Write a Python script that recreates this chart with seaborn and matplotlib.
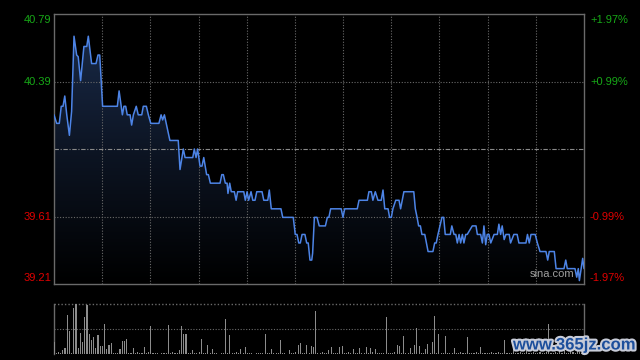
import numpy as np
import pandas as pd
import matplotlib
matplotlib.use("Agg")
import matplotlib.pyplot as plt
import seaborn as sns
from matplotlib.colors import LinearSegmentedColormap
import matplotlib.patheffects as pe

# ---- data ----
minutes = [0, 1.2, 2.4, 3.3, 4.1, 4.9, 5.8, 7.0, 8.0, 9.1, 10.3, 11.0, 12.1, 13.6, 14.9, 15.6,
           17.1, 19.1, 20.0, 20.8, 22.1, 28.8, 29.6, 31.1, 31.8, 32.6, 33.3, 34.6, 35.3, 36.1,
           37.4, 38.3, 39.9, 40.6, 42.0, 42.9, 44.0, 47.7, 48.7, 49.4, 50.2, 52.7, 56.5, 57.3,
           58.8, 59.6, 61.8, 63.1, 63.8, 64.6, 65.3, 66.4, 67.3, 68.1, 69.4, 70.2, 71.1, 75.5,
           76.3, 77.0, 77.9, 78.7, 79.1, 79.9, 80.6, 82.0, 82.8, 83.5, 86.3, 87.0, 87.8, 88.5,
           89.6, 90.4, 91.4, 92.2, 94.6, 95.4, 97.2, 97.9, 98.8, 103.2, 104.0, 108.8, 109.7,
           110.5, 111.3, 112.0, 112.8, 114.1, 114.9, 115.6, 116.4, 117.2, 117.6, 118.4, 119.6,
           120.6, 123.4, 124.3, 125.0, 125.8, 130.6, 131.4, 132.2, 137.9, 138.7, 142.5, 143.2,
           144.3, 145.0, 146.1, 147.3, 148.8, 149.6, 150.4, 151.9, 152.6, 153.4, 154.1, 155.4,
           156.9, 157.6, 159.1, 163.6, 164.3, 165.1, 165.8, 166.6, 167.3, 168.6, 170.1, 172.3,
           173.1, 173.8, 174.6, 176.4, 177.2, 177.9, 180.2, 180.9, 181.9, 182.7, 183.4, 184.2,
           184.9, 185.7, 186.4, 187.2, 187.9, 190.2, 191.9, 192.5, 194.0, 194.8, 195.5, 196.3,
           197.0, 197.8, 198.6, 200.1, 201.6, 202.3, 203.1, 203.8, 204.7, 205.5, 207.0, 207.6,
           209.1, 210.6, 211.4, 214.6, 215.3, 216.1, 216.9, 218.8, 219.8, 221.0, 223.7, 224.5,
           225.2, 227.5, 228.3, 231.9, 232.7, 233.4, 236.9, 237.7, 238.4, 238.9, 239.7, 240.4,
           241.0]
prices = [40.20, 40.15, 40.15, 40.25, 40.25, 40.31, 40.20, 40.08, 40.22, 40.66, 40.55, 40.54,
          40.40, 40.60, 40.60, 40.66, 40.50, 40.50, 40.55, 40.55, 40.25, 40.25, 40.34, 40.20,
          40.25, 40.25, 40.20, 40.20, 40.14, 40.20, 40.25, 40.20, 40.20, 40.25, 40.25, 40.20,
          40.15, 40.15, 40.20, 40.17, 40.20, 40.05, 40.05, 39.88, 40.00, 39.95, 39.95, 39.95,
          40.00, 39.95, 40.00, 39.90, 39.90, 39.95, 39.85, 39.85, 39.80, 39.80, 39.85, 39.85,
          39.80, 39.80, 39.74, 39.80, 39.75, 39.75, 39.70, 39.75, 39.75, 39.70, 39.75, 39.70,
          39.75, 39.70, 39.70, 39.75, 39.75, 39.70, 39.70, 39.76, 39.65, 39.65, 39.60, 39.60,
          39.50, 39.50, 39.45, 39.45, 39.50, 39.50, 39.45, 39.45, 39.35, 39.35, 39.39, 39.60,
          39.60, 39.55, 39.55, 39.60, 39.60, 39.65, 39.65, 39.60, 39.65, 39.65, 39.70, 39.70,
          39.75, 39.75, 39.70, 39.75, 39.70, 39.70, 39.76, 39.65, 39.65, 39.60, 39.60, 39.65,
          39.70, 39.70, 39.65, 39.75, 39.75, 39.65, 39.60, 39.55, 39.55, 39.50, 39.50, 39.40,
          39.40, 39.45, 39.45, 39.50, 39.60, 39.60, 39.50, 39.50, 39.55, 39.50, 39.50, 39.45,
          39.50, 39.45, 39.50, 39.45, 39.50, 39.50, 39.55, 39.55, 39.50, 39.50, 39.45, 39.55,
          39.44, 39.50, 39.50, 39.45, 39.50, 39.50, 39.56, 39.50, 39.55, 39.47, 39.50, 39.50,
          39.45, 39.50, 39.50, 39.45, 39.45, 39.50, 39.45, 39.50, 39.50, 39.45, 39.40, 39.40,
          39.35, 39.40, 39.40, 39.30, 39.30, 39.35, 39.30, 39.30, 39.25, 39.30, 39.23, 39.30,
          39.36, 39.30]

volume = [25, 3, 5, 2, 9, 12, 79, 47, 3, 92, 100, 13, 43, 25, 75, 99, 41, 29, 35, 13,
          39, 17, 17, 61, 10, 19, 23, 2, 3, 2, 10, 27, 27, 31, 3, 2, 12, 2, 4, 2,
          3, 15, 2, 4, 57, 2, 3, 2, 1, 3, 2, 3, 59, 2, 4, 3, 2, 9, 57, 41,
          41, 2, 3, 9, 2, 3, 4, 31, 2, 3, 19, 2, 11, 3, 2, 1, 3, 2, 71, 2,
          39, 3, 2, 4, 2, 11, 3, 15, 2, 3, 2, 1, 3, 2, 2, 3, 41, 2, 3, 11,
          2, 3, 2, 29, 3, 2, 1, 9, 3, 2, 4, 19, 23, 3, 2, 19, 3, 17, 14, 87,
          2, 3, 4, 2, 3, 9, 14, 2, 3, 2, 14, 17, 3, 2, 4, 2, 11, 3, 2, 12,
          3, 2, 14, 3, 12, 4, 11, 3, 2, 2, 3, 74, 2, 3, 2, 4, 19, 17, 3, 37,
          2, 3, 12, 2, 19, 52, 17, 3, 2, 10, 21, 3, 25, 77, 3, 41, 2, 3, 37, 2,
          3, 2, 12, 3, 2, 4, 3, 2, 34, 3, 2, 3, 4, 2, 14, 3, 2, 3, 2, 4,
          3, 2, 4, 3, 2, 29, 3, 2, 3, 12, 3, 2, 4, 3, 2, 10, 3, 2, 4, 3,
          2, 4, 3, 2, 5, 61, 3, 2, 4, 3, 15, 3, 12, 2, 3, 18, 4, 3, 10, 4,
          3, 20]

prev_close = 40.00
price_labels = ["40.79", "40.39", "39.61", "39.21"]
pct_labels = ["+1.97%", "+0.99%", "-0.99%", "-1.97%"]
y_low, y_high = 39.21, 40.79
grid_prices = [40.395, 39.605]

# ---- style ----
sns.set_style("dark")
plt.rcParams['font.family'] = ['Liberation Sans', 'DejaVu Sans']

W, H = 640, 360
fig = plt.figure(figsize=(6.4, 3.6), dpi=100, facecolor='black')
ax = fig.add_axes([54 / W, 1 - 284 / H, 530 / W, 270 / H])
axv = fig.add_axes([54 / W, 1 - 354 / H, 530 / W, 50 / H])

grid_col = '#6a6a6a'
dot = (0, (1, 1.5))
x_max = 241

for a in (ax, axv):
    a.set_facecolor('black')
    a.set_xticks([])
    a.set_yticks([])
    a.grid(False)
    a.set_xlim(0, x_max)

# ---- price panel ----
df = pd.DataFrame({"t": minutes, "p": prices})
ax.set_ylim(y_low, y_high)

# gradient fill under the line
poly = ax.fill_between(df["t"], df["p"], y_low, color='none', lw=0)
cmap = LinearSegmentedColormap.from_list("g", ['#000000', '#0d1524', '#1b2d4d'])
grad = np.linspace(0, 1, 256).reshape(-1, 1)
im = ax.imshow(grad, extent=[0, x_max, y_low, y_high], origin='lower', aspect='auto',
               cmap=cmap, zorder=1)
im.set_clip_path(poly.get_paths()[0], transform=ax.transData)

for k in range(1, 11):
    ax.axvline(x_max * k / 11, color=grid_col, lw=0.8, ls=dot, zorder=2)
for gp in grid_prices:
    ax.axhline(gp, color=grid_col, lw=0.8, ls=dot, zorder=2)
ax.axhline(prev_close, color='#8a8a8a', lw=0.8, ls=(0, (4, 1.5, 1, 1.5)), zorder=2)

sns.lineplot(data=df, x="t", y="p", ax=ax, color='#4d84e6', lw=1.1, zorder=3,
             estimator=None, sort=False)
ax.set_xlabel("")
ax.set_ylabel("")
ax.set_xlim(0, x_max)
ax.set_ylim(y_low, y_high)

for s in ax.spines.values():
    s.set_visible(True)
    s.set_color(grid_col)
    s.set_linewidth(1)

ax.text(0.982, 0.018, "sina.com", transform=ax.transAxes, ha='right', va='bottom',
        color='#a0a0a0', fontsize=8)

# axis labels
label_y = [20, 82, 217, 278]
for lab, pl, yy in zip(price_labels, pct_labels, label_y):
    col = '#17a817' if lab >= "40" else '#e00000'
    fig.text(51 / W, 1 - yy / H, lab, ha='right', va='center', color=col, fontsize=8)
    fig.text(590 / W, 1 - yy / H, pl, ha='left', va='center', color=col, fontsize=8)

# ---- volume panel ----
dv = pd.DataFrame({"t": list(range(len(volume))), "v": volume})
sns.barplot(data=dv, x="t", y="v", ax=axv, native_scale=True, color='#8c8c8c',
            width=0.5, errorbar=None, saturation=1, linewidth=0, zorder=3)
axv.set_xlabel("")
axv.set_ylabel("")
axv.set_xlim(0, x_max)
axv.set_ylim(0, 100)
axv.set_xticks([])
axv.set_yticks([])
axv.axhline(50, color=grid_col, lw=0.8, ls=dot, zorder=2)
axv.axhline(100, color=grid_col, lw=1.0, ls=dot, zorder=2, clip_on=False)
axv.spines['top'].set_visible(False)
axv.spines['bottom'].set_visible(False)
for side in ('left', 'right'):
    axv.spines[side].set_visible(True)
    axv.spines[side].set_color(grid_col)
    axv.spines[side].set_linewidth(1)

# watermark
fig.text(574 / W, 1 - 345 / H, "www.365jz.com", ha='center', va='center',
         color='#1d4f9c', fontsize=12, fontweight='bold',
         path_effects=[pe.withStroke(linewidth=3, foreground='#c8ccd8')])

fig.savefig("out.png", dpi=100, facecolor='black')
